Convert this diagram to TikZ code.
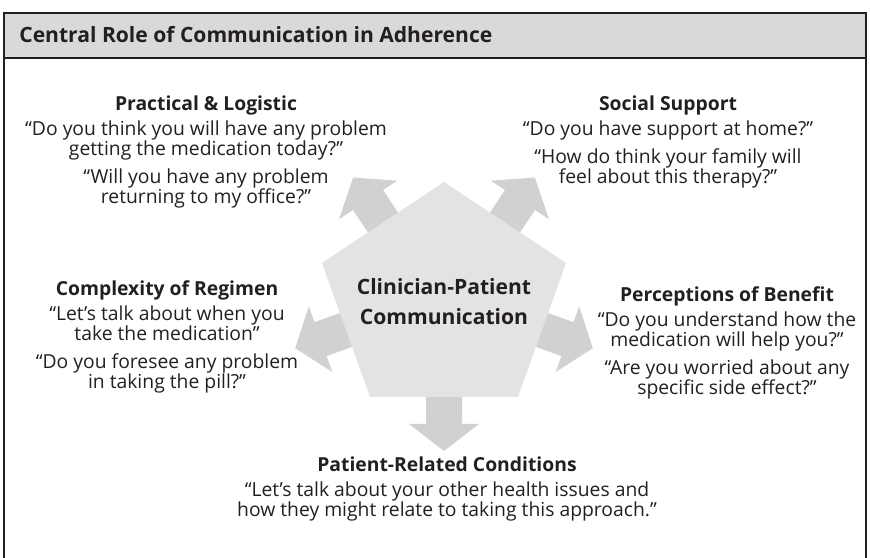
\documentclass[tikz,border=0pt]{standalone}
\usepackage{fontspec}
\setmainfont{Open Sans}
\usetikzlibrary{positioning, calc}

\definecolor{inkgray}{RGB}{35,31,32}
\definecolor{bargray}{RGB}{217,217,218}
\definecolor{pentagray}{RGB}{227,227,228}
\definecolor{arrowgray}{RGB}{209,209,211}

\tikzset{
    framestyle/.style={
        draw=inkgray,
        line width=0.8pt % 外框线
    },
    titlenode/.style={
        font=\bfseries\fontsize{12pt}{14pt}\selectfont,
        text=inkgray,
        inner sep=0
    },
    hubnode/.style={
        align=center,
        font=\bfseries\fontsize{12pt}{17pt}\selectfont,
        text=inkgray,
        inner sep=0
    },
    headnode/.style={
        font=\bfseries\fontsize{11pt}{13pt}\selectfont,
        text=inkgray,
        text depth=2.5pt, % 标题统一深度
        inner sep=0
    },
    quotenode/.style={
        align=center,
        font=\fontsize{11pt}{11.4pt}\selectfont,
        text=inkgray,
        inner sep=0
    }
}

\begin{document}
\begin{tikzpicture}[x=0.02cm, y=0.02cm]
    \useasboundingbox (0,0) rectangle (870,558);

    % 外框和标题栏
    \draw[framestyle] (4,0) -- (4,545) -- (866,545) -- (866,0);
    \filldraw[framestyle, fill=bargray] (4,500) rectangle (866,545);
    \node[titlenode, anchor=base west] (title) at (19,515)
        {Central Role of Communication in Adherence};

    % 五边形顶点
    \coordinate (pT)  at (444,376);
    \coordinate (pR)  at (566,295);
    \coordinate (pBR) at (518,161);
    \coordinate (pBL) at (370,161);
    \coordinate (pL)  at (322,295);
    % 各边中点
    \coordinate (mUL) at ($(pL)!0.5!(pT)$);
    \coordinate (mUR) at ($(pT)!0.5!(pR)$);
    \coordinate (mR)  at ($(pR)!0.5!(pBR)$);
    \coordinate (mB)  at ($(pBR)!0.5!(pBL)$);
    \coordinate (mL)  at ($(pBL)!0.5!(pL)$);

    % 向外的箭头
    \foreach \pos/\ang in {mUL/123.6, mUR/56.4, mR/-19.7, mB/-90, mL/199.7}
        \fill[arrowgray, shift={(\pos)}, rotate=\ang]
            (-20,-18) -- (27,-18) -- (27,-35) -- (54,0)
            -- (27,35) -- (27,18) -- (-20,18) -- cycle;

    % 中心五边形
    \fill[pentagray] (pT) -- (pR) -- (pBR) -- (pBL) -- (pL) -- cycle;
    \node[hubnode] (hub) at (444,256) {Clinician-Patient\\Communication};

    % 五个方面
    \node[headnode, anchor=base] (practHead) at (206,447) {Practical \& Logistic};
    \node[quotenode, below=2.8pt of practHead] (practQuote)
        {“Do you think you will have any problem\\getting the medication today?”\\[4.5pt]%
         “Will you have any problem\\returning to my office?”};

    \node[headnode, anchor=base] (socialHead) at (668,447) {Social Support};
    \node[quotenode, below=2.8pt of socialHead] (socialQuote)
        {“Do you have support at home?”\\[4.5pt]%
         “How do think your family will\\feel about this therapy?”};

    \node[headnode, anchor=base] (regimenHead) at (167,262) {Complexity of Regimen};
    \node[quotenode, below=2.8pt of regimenHead] (regimenQuote)
        {“Let’s talk about when you\\take the medication”\\[4.5pt]%
         “Do you foresee any problem\\in taking the pill?”};

    \node[headnode, anchor=base] (benefitHead) at (727,256) {Perceptions of Benefit};
    \node[quotenode, below=2.8pt of benefitHead] (benefitQuote)
        {“Do you understand how the\\medication will help you?”\\[4.5pt]%
         “Are you worried about any\\specific side effect?”};

    \node[headnode, anchor=base] (patientHead) at (447,86) {Patient-Related Conditions};
    \node[quotenode, below=2.8pt of patientHead] (patientQuote)
        {“Let’s talk about your other health issues and\\how they might relate to taking this approach.”};
\end{tikzpicture}
\end{document}
